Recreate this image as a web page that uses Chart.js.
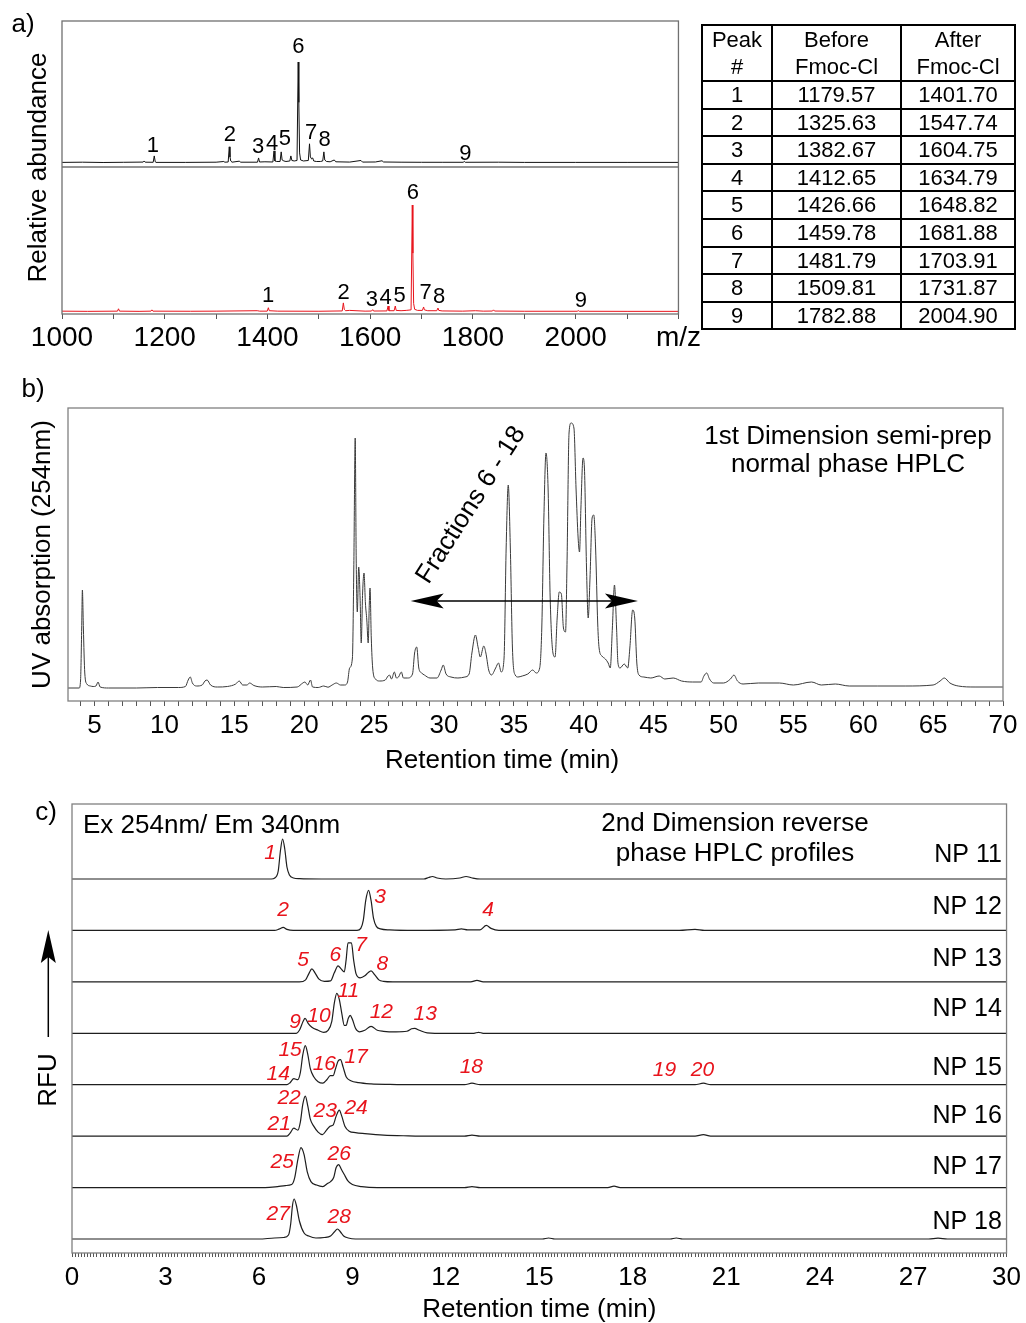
<!DOCTYPE html>
<html><head><meta charset="utf-8">
<script src="https://cdn.jsdelivr.net/npm/chart.js@4.4.1/dist/chart.umd.min.js"></script>
<style>
html,body{margin:0;padding:0;background:#fff;overflow:hidden;width:1026px;height:1323px}
body{position:relative;font-family:'Liberation Sans',Arial,sans-serif;color:#000}
canvas{position:absolute}
.t{position:absolute;white-space:nowrap;line-height:1;transform:translate(-50%,-50%);font-size:26px}
#tbl{position:absolute;left:701px;top:24px;width:313px;border-collapse:collapse;table-layout:fixed;font-size:22px;text-align:center}
#tbl td{border:2px solid #000;padding:0;line-height:25.6px;height:25.6px}
#tbl tr.hd td{line-height:27px;height:54px}
</style></head><body>
<canvas id="ca" width="703" height="360" style="left:0;top:0"></canvas>
<canvas id="cb" width="1026" height="410" style="left:0;top:370px"></canvas>
<canvas id="cc" width="1026" height="533" style="left:0;top:790px"></canvas>
<table id="tbl"></table>
<div class="t" style="left:23px;top:23px">a)</div>
<div class="t" style="left:33px;top:388px">b)</div>
<div class="t" style="left:46px;top:811px">c)</div>
<div class="t" style="left:848px;top:435px">1st Dimension semi-prep</div>
<div class="t" style="left:848px;top:463px">normal phase HPLC</div>
<div class="t" style="left:502px;top:759px">Retention time (min)</div>
<div class="t" style="left:83px;top:824px;transform:translate(0,-50%)">Ex 254nm/ Em 340nm</div>
<div class="t" style="left:735px;top:822px">2nd Dimension reverse</div>
<div class="t" style="left:735px;top:852px">phase HPLC profiles</div>
<div class="t" style="left:47px;top:1080px;transform:translate(-50%,-50%) rotate(-90deg)">RFU</div>
<svg style="position:absolute;left:30px;top:920px" width="40" height="130">
  <line x1="18.3" y1="117" x2="18.3" y2="36" stroke="#000" stroke-width="1.5"/>
  <path d="M18.3 10 L25.8 43 L18.3 37 L10.8 43 Z" fill="#000"/>
</svg>
<script>
// ---------- Panel a: MS peak table ----------
const peakNo = [1, 2, 3, 4, 5, 6, 7, 8, 9];
const mzBefore = [1179.57, 1325.63, 1382.67, 1412.65, 1426.66, 1459.78, 1481.79, 1509.81, 1782.88];
const mzAfter = [1401.70, 1547.74, 1604.75, 1634.79, 1648.82, 1681.88, 1703.91, 1731.87, 2004.90];

// spectra: [m/z, relative abundance %]
const spectrumBefore = [[1000,0.6],[1040,0.8],[1080,0.5],[1120,0.7],[1158,0.9],[1160,2],[1162,0.8],[1177.5,0.7],[1179.6,7],[1181.5,1.2],[1183,0.6],[1240,0.6],[1300,0.8],[1315,1.5],[1317,0.8],[1323.5,1],[1325.6,16],[1327,6],[1328.5,2],[1331,0.8],[1345,1.8],[1348,0.8],[1380.5,0.8],[1382.7,5],[1384.5,1],[1395,1.2],[1410.5,1],[1412.7,12],[1414.5,2],[1418,1.5],[1424.5,1.5],[1426.7,11],[1428.5,3],[1432,2],[1436,1.5],[1443.5,2],[1445.5,7],[1447.5,2.5],[1452,2],[1457.5,2.5],[1459.8,100],[1461,60],[1462.5,10],[1464.5,3],[1470,2],[1479.5,2.5],[1481.8,19],[1483.5,6],[1486,4],[1488,5],[1490,2],[1495,1.5],[1503,1.5],[1507.5,2],[1509.8,11],[1511.5,3],[1515,1.5],[1522,1.2],[1530,3],[1533,1.2],[1560,0.9],[1582,2.5],[1585,0.9],[1610,1],[1623,2.2],[1626,1],[1660,0.8],[1700,0.7],[1740,0.7],[1781,0.7],[1783,1.6],[1785,0.7],[1850,0.8],[1900,0.6],[2000,0.6],[2100,0.6],[2200,0.6]];
const spectrumAfter = [[1000,0.8],[1050,0.6],[1108,0.8],[1110,3],[1112,0.8],[1150,0.6],[1173,0.8],[1175,2],[1177,0.8],[1250,0.7],[1300,0.8],[1380,1.2],[1385,0.8],[1399.5,0.8],[1401.7,4],[1403.5,1.2],[1420,0.8],[1500,0.7],[1545.5,1],[1547.7,8.5],[1549.5,2.5],[1552,1.2],[1560,1.5],[1590,0.8],[1602.5,0.9],[1604.8,2.2],[1606.5,0.9],[1632.5,1],[1634.8,5.6],[1636.5,1.2],[1646.5,1.2],[1648.8,5.6],[1650.5,1.5],[1660,1.2],[1670,1.5],[1679.5,2],[1681.9,100],[1683,55],[1684.5,8],[1686.5,2.5],[1692,1.5],[1701.5,1.5],[1703.9,4.7],[1705.5,2],[1712,1.2],[1729.5,1.2],[1731.9,3.7],[1733.5,1.5],[1740,1],[1780,0.8],[1805,1.2],[1820,0.8],[1838,0.9],[1840,2],[1842,0.9],[1900,0.7],[2003,0.7],[2005,1.3],[2007,0.7],[2100,0.6],[2200,0.6]];

const beforeLabelMz = [1177, 1327, 1382, 1409, 1434, 1460, 1485, 1511, 1785];
const beforeLabelH = [17, 28, 16, 19, 24, 115, 30, 23, 9];
const afterLabelMz = [1401, 1548, 1603, 1630, 1657, 1683, 1708, 1734, 2010];
const afterLabelH = [15, 17.8, 11.2, 13, 15, 111, 17.8, 14, 10.3];
const mzTickLabels = {1000:'1000',1200:'1200',1400:'1400',1600:'1600',1800:'1800',2000:'2000',2200:'m/z'};

// ---------- Panel b: 1st dimension UV trace [min, absorbance] ----------
const uvTrace = [[3.1,0],[3.9,0],[4.0,8],[4.08,60],[4.13,98],[4.2,60],[4.3,15],[4.45,4],[4.7,2],[4.9,1.5],[5.1,2],[5.25,6],[5.4,1],[6,0],[8,0],[9.5,0.5],[11,0.5],[11.5,1.5],[11.7,8],[11.85,11],[12.0,5],[12.3,2],[12.7,3],[12.9,7],[13.05,8],[13.3,3],[13.8,1],[14.5,1.5],[15.1,4],[15.35,7],[15.6,3],[15.9,3],[16.1,5],[16.4,2.5],[17,1],[18,1.5],[18.5,0.5],[19.5,1],[19.9,5],[20.05,6],[20.25,3],[20.45,8],[20.6,1],[21,0.5],[21.4,2],[21.7,0.8],[22.0,3],[22.3,5],[22.6,3],[22.9,3],[23.1,6],[23.25,20],[23.45,30],[23.55,120],[23.65,250],[23.72,130],[23.8,76],[23.9,121],[24.0,90],[24.08,45],[24.18,95],[24.28,115],[24.38,85],[24.48,68],[24.58,45],[24.66,85],[24.71,100],[24.8,50],[24.9,20],[25.1,9],[25.4,7],[25.8,8],[26.0,12],[26.1,13],[26.25,9],[26.45,16],[26.6,10],[26.75,11],[26.95,16],[27.1,10],[27.4,10],[27.75,14],[27.9,35],[28.05,41],[28.2,20],[28.4,15],[28.6,13],[29.0,10],[29.5,10],[29.8,18],[29.95,23],[30.15,14],[30.5,11],[31.0,10],[31.5,11],[31.8,14],[32.0,35],[32.25,53],[32.45,40],[32.6,31],[32.85,42],[33.0,35],[33.2,18],[33.4,13],[33.7,20],[33.9,25],[34.1,16],[34.3,30],[34.45,140],[34.6,203],[34.75,140],[34.9,40],[35.1,13],[35.3,11],[35.6,12],[36.0,14],[36.35,18],[36.6,15],[36.85,20],[37.0,60],[37.15,170],[37.3,235],[37.45,200],[37.6,90],[37.8,35],[37.95,31],[38.1,70],[38.25,96],[38.4,94],[38.55,60],[38.7,56],[38.8,120],[38.95,255],[39.1,265],[39.3,260],[39.45,200],[39.6,150],[39.7,136],[39.8,180],[39.95,230],[40.05,220],[40.2,120],[40.32,70],[40.45,110],[40.6,170],[40.72,173],[40.85,140],[41.0,65],[41.1,40],[41.3,32],[41.55,29],[41.75,25],[41.9,20],[42.05,60],[42.2,103],[42.35,60],[42.45,25],[42.6,20],[42.9,24],[43.15,20],[43.3,40],[43.5,78],[43.65,70],[43.8,25],[43.95,13],[44.3,11],[44.8,10],[45.4,12],[45.8,9],[46.4,10],[47.0,7],[47.8,6],[48.4,6],[48.6,12],[48.8,15],[49.0,9],[49.3,5],[50.0,5],[50.5,9],[50.75,13],[51.0,7],[51.4,4],[52.5,5],[54.0,5],[55.0,3],[56.3,6],[57.0,3],[58.0,4],[59.0,2],[61.0,2],[63.0,2],[65.0,3],[65.5,7],[65.8,10],[66.2,5],[66.8,2],[68.0,1],[70,1]];
const fractionRange = [27.62, 43.88];
const fractionLevel = 87;
const fractionText = 'Fractions 6 - 18';
const fractionTextPos = [31.95, 183];

// ---------- Panel c: 2nd dimension RP-HPLC profiles [min, RFU] ----------
const npNames = ['NP 11','NP 12','NP 13','NP 14','NP 15','NP 16','NP 17','NP 18'];
const np11 = [[0,0],[6.4,0],[6.51,1],[6.62,8],[6.69,28],[6.76,40],[6.83,30],[6.9,12],[6.98,4],[7.11,1],[7.3,0.3],[8,0],[11.3,0],[11.45,1.5],[11.57,2.5],[11.72,1],[12,0],[12.45,1],[12.65,2.5],[12.85,1],[13.1,0],[30,0]];
const np12 = [[0,0],[6.5,0],[6.66,1.5],[6.78,3],[6.9,1],[7.1,0],[9.15,0],[9.27,2],[9.35,10],[9.43,30],[9.52,40],[9.6,30],[9.68,12],[9.77,4],[9.9,1.5],[10.2,0.5],[11,0],[12.3,0.5],[12.5,1.5],[12.7,0.5],[13.1,0.5],[13.3,5],[13.45,2],[13.7,0],[19.5,0],[20,1],[20.3,0],[30,0]];
const np13 = [[0,0],[7.3,0],[7.5,2],[7.6,8],[7.7,13],[7.8,9],[7.92,3],[8.1,0.5],[8.3,1],[8.42,9],[8.54,16],[8.64,13],[8.74,10],[8.8,22],[8.86,39],[8.97,39],[9.04,22],[9.12,8],[9.25,4],[9.4,6],[9.5,9],[9.6,11],[9.72,7],[9.85,2],[10.0,0.5],[10.3,0],[12.8,0],[13.0,1.5],[13.2,0],[30,0]];
const np14 = [[0,0],[7.2,0],[7.3,3],[7.42,12],[7.48,15],[7.58,10],[7.7,6],[7.9,3],[8.08,1],[8.22,3],[8.34,12],[8.42,30],[8.5,40],[8.58,34],[8.66,20],[8.74,8],[8.8,8],[8.87,15],[8.93,18],[9.0,14],[9.1,5],[9.22,1.5],[9.4,3],[9.6,7],[9.8,3],[10.0,2],[10.4,1.5],[10.75,2],[10.9,4.5],[11.0,5],[11.15,3],[11.4,0.5],[12,0],[12.9,0],[13.05,1],[13.2,0],[30,0]];
const np15 = [[0,0],[6.9,0],[7.0,2],[7.12,6],[7.25,5],[7.33,12],[7.41,30],[7.49,39],[7.57,30],[7.65,16],[7.76,8],[7.9,3],[8.05,1.5],[8.18,5],[8.29,9],[8.38,9],[8.46,16],[8.55,24],[8.62,25],[8.7,18],[8.8,8],[8.95,4],[9.2,2],[9.6,0.8],[10.2,0.3],[11,0],[12.6,0],[12.84,1.5],[13.1,0],[20.0,0],[20.27,1.5],[20.5,0],[30,0]];
const np16 = [[0,0],[6.9,0],[7.0,3],[7.12,8],[7.25,6],[7.33,14],[7.41,32],[7.49,40],[7.57,30],[7.65,17],[7.76,10],[7.9,4],[8.04,1.5],[8.17,6],[8.29,10],[8.38,11],[8.48,20],[8.58,26],[8.66,20],[8.76,10],[8.9,5],[9.1,3.5],[9.4,2.5],[10,1],[10.8,0.3],[11.5,0],[12.6,0],[12.84,1],[13.1,0],[20,0],[20.27,1.5],[20.5,0],[30,0]];
const np17 = [[0,0],[6.2,0],[6.6,1],[6.85,2],[7.05,3],[7.15,10],[7.25,28],[7.35,40],[7.45,33],[7.55,16],[7.67,6],[7.85,2.5],[8.05,1],[8.2,4],[8.3,6],[8.4,10],[8.48,20],[8.56,23],[8.65,18],[8.74,13],[8.85,7],[9.0,3],[9.3,1],[9.8,0],[12.6,0],[12.84,1],[13.1,0],[17.2,0],[17.4,1.5],[17.6,0],[30,0]];
const np18 = [[0,0],[6.0,0],[6.5,1],[6.8,1.5],[6.95,4],[7.02,15],[7.08,34],[7.13,40],[7.2,34],[7.3,18],[7.45,6],[7.6,3],[7.83,1],[8.1,1.5],[8.3,3],[8.42,7],[8.52,10],[8.62,7],[8.72,3],[8.87,1],[9.1,0],[15.1,0],[15.3,1],[15.5,0],[19.2,0],[19.4,1],[19.6,0],[27.5,0],[27.8,0.8],[28.1,0],[30,0]];
const npTraces = [np11, np12, np13, np14, np15, np16, np17, np18];
const npNameDy = [24, 23, 23, 24, 17, 20, 20, 17];
const peakLabelText = ['1','2','3','4','5','6','7','8','9','10','11','12','13','14','15','16','17','18','19','20','21','22','23','24','25','26','27','28'];
const peakLabelTrace = [0,1,1,1,2,2,2,2,3,3,3,3,3,4,4,4,4,4,4,4,5,5,5,5,6,6,7,7];
const peakLabelT = [6.36,6.78,9.89,13.36,7.42,8.45,9.28,9.96,7.16,7.93,8.87,9.93,11.34,6.62,7.0,8.1,9.12,12.82,19.02,20.24,6.65,6.97,8.13,9.12,6.75,8.58,6.62,8.58];
const peakLabelDy = [26,20,33,20,22,27,37,18,11,17,42,21,19,11,35,21,28,18,15,15,12,38,25,28,25,33,25,22];

// ---------- helpers ----------
const FONT = "'Liberation Sans', Arial, sans-serif";
Chart.defaults.font.family = FONT;
Chart.defaults.color = '#000';

// table from arrays
(function(){
  let h = '<colgroup><col style="width:70px"><col style="width:129px"><col style="width:114px"></colgroup>';
  h += '<tr class="hd"><td>Peak<br>#</td><td>Before<br>Fmoc-Cl</td><td>After<br>Fmoc-Cl</td></tr>';
  peakNo.forEach((n,i)=>{ h += '<tr><td>'+n+'</td><td>'+mzBefore[i].toFixed(2)+'</td><td>'+mzAfter[i].toFixed(2)+'</td></tr>'; });
  document.getElementById('tbl').innerHTML = h;
})();

const framePlugin = {
  id: 'frame',
  afterDraw(chart, args, o) {
    const {ctx, chartArea: {left, top, right, bottom}} = chart;
    ctx.save();
    ctx.strokeStyle = o.color || '#808080';
    ctx.lineWidth = o.width || 1.3;
    ctx.strokeRect(left, top, right - left, bottom - top);
    (o.hLines || []).forEach(v => {
      const py = chart.scales.y.getPixelForValue(v);
      ctx.beginPath(); ctx.moveTo(left, py); ctx.lineTo(right, py); ctx.stroke();
    });
    ctx.restore();
  }
};
const textPlugin = {
  id: 'dataText',
  afterDatasetsDraw(chart, args, o) {
    const {ctx, scales: {x, y}} = chart;
    ctx.save();
    (o.items || []).forEach(it => {
      ctx.font = it.font; ctx.fillStyle = it.color || '#000';
      ctx.textAlign = it.align || 'center'; ctx.textBaseline = 'middle';
      const px = x.getPixelForValue(it.x), py = y.getPixelForValue(it.y);
      if (it.rot) { ctx.save(); ctx.translate(px, py); ctx.rotate(it.rot * Math.PI / 180); ctx.fillText(it.text, 0, 0); ctx.restore(); }
      else ctx.fillText(it.text, px, py);
    });
    ctx.restore();
  }
};
const arrowPlugin = {
  id: 'fracArrow',
  afterDatasetsDraw(chart, args, o) {
    if (!o.from) return;
    const {ctx, scales: {x, y}} = chart;
    const x1 = x.getPixelForValue(o.from), x2 = x.getPixelForValue(o.to), py = y.getPixelForValue(o.level);
    ctx.save(); ctx.strokeStyle = '#000'; ctx.fillStyle = '#000'; ctx.lineWidth = 1.4;
    ctx.beginPath(); ctx.moveTo(x1 + 20, py); ctx.lineTo(x2 - 20, py); ctx.stroke();
    const head = (tx, d) => { ctx.beginPath(); ctx.moveTo(tx, py); ctx.lineTo(tx + d*33, py - 7.5); ctx.lineTo(tx + d*26, py); ctx.lineTo(tx + d*33, py + 7.5); ctx.closePath(); ctx.fill(); };
    head(x1, 1); head(x2, -1);
    ctx.restore();
  }
};
Chart.register(framePlugin, textPlugin, arrowPlugin);

const baseOpts = (extra) => Object.assign({
  responsive: false, animation: false, devicePixelRatio: 1, events: [],
}, extra);
const fixW = w => s => { s.width = w; };
const fixH = h => s => { s.height = h; };

// ---------- Panel a chart ----------
const A_TOP_BASE = 151, A_TOP_GAIN = 1.01, A_BOT_BASE = 2, A_BOT_GAIN = 1.07, A_SEP = 147;
const aItems = [];
peakNo.forEach((n,i) => {
  aItems.push({text: String(n), x: beforeLabelMz[i], y: A_TOP_BASE + beforeLabelH[i]*A_TOP_GAIN, font: "22px " + FONT});
  aItems.push({text: String(n), x: afterLabelMz[i], y: A_BOT_BASE + afterLabelH[i]*A_BOT_GAIN, font: "22px " + FONT});
});
new Chart(document.getElementById('ca'), {
  type: 'line',
  data: { datasets: [
    { data: spectrumBefore.map(p => ({x: p[0], y: A_TOP_BASE + p[1]*A_TOP_GAIN})), borderColor: '#111', borderWidth: 1, pointRadius: 0, tension: 0 },
    { data: spectrumAfter.map(p => ({x: p[0], y: A_BOT_BASE + p[1]*A_BOT_GAIN})), borderColor: '#e8141c', borderWidth: 1, pointRadius: 0, tension: 0 }
  ]},
  options: baseOpts({
    layout: { padding: { top: 21, right: 24, left: 0, bottom: 0 } },
    plugins: { legend: {display: false}, tooltip: {enabled: false},
      frame: { color: '#707070', width: 1.3, hLines: [A_SEP] },
      dataText: { items: aItems } },
    scales: {
      x: { type: 'linear', min: 1000, max: 2200,
        ticks: { stepSize: 100, autoSkip: false, maxRotation: 0, minRotation: 0, includeBounds: false, padding: 2,
          font: { size: 28 }, color: '#000', callback: v => mzTickLabels[v] || '' },
        grid: { drawOnChartArea: false, tickLength: 5, color: '#555' }, border: { display: false },
        afterFit: fixH(46) },
      y: { min: 0, max: 293, ticks: { display: false }, grid: { display: false }, border: { display: false },
        title: { display: true, text: 'Relative abundance', font: { size: 26 }, color: '#000', padding: { top: 23, bottom: 0 } },
        afterFit: fixW(62) }
    }
  })
});

// ---------- Panel b chart ----------
new Chart(document.getElementById('cb'), {
  type: 'line',
  data: { datasets: [
    { data: uvTrace.map(p => ({x: p[0], y: p[1]})), borderColor: '#3a3a3a', borderWidth: 1, pointRadius: 0, cubicInterpolationMode: 'monotone' }
  ]},
  options: baseOpts({
    layout: { padding: { top: 38, right: 23, left: 0, bottom: 0 } },
    plugins: { legend: {display: false}, tooltip: {enabled: false},
      frame: { color: '#808080', width: 1.3 },
      fracArrow: { from: fractionRange[0], to: fractionRange[1], level: fractionLevel },
      dataText: { items: [{ text: fractionText, x: fractionTextPos[0], y: fractionTextPos[1], rot: -57.4, font: "26px " + FONT }] } },
    scales: {
      x: { type: 'linear', min: 3.1, max: 70,
        ticks: { stepSize: 1, autoSkip: false, maxRotation: 0, minRotation: 0, includeBounds: false, padding: 4,
          font: { size: 26 }, color: '#000', callback: v => (v % 5 === 0 ? String(v) : '') },
        grid: { drawOnChartArea: false, tickLength: 5, color: '#555' }, border: { display: false },
        afterFit: fixH(79) },
      y: { min: -13, max: 280, ticks: { display: false }, grid: { display: false }, border: { display: false },
        title: { display: true, text: 'UV absorption (254nm)', font: { size: 26 }, color: '#000', padding: { top: 27, bottom: 0 } },
        afterFit: fixW(68) }
    }
  })
});

// ---------- Panel c chart ----------
const C_SPACING = 51.43;
const cItems = [];
npNames.forEach((nm, i) => cItems.push({ text: nm, x: 29.85, y: (7 - i)*C_SPACING + npNameDy[i], align: 'right', font: "25px " + FONT }));
peakLabelText.forEach((t, i) => cItems.push({ text: t, x: peakLabelT[i], y: (7 - peakLabelTrace[i])*C_SPACING + peakLabelDy[i], color: '#e8141c', font: "italic 21px " + FONT }));
new Chart(document.getElementById('cc'), {
  type: 'line',
  data: { datasets: npTraces.map((tr, i) => ({
    data: tr.map(p => ({x: p[0], y: (7 - i)*C_SPACING + p[1]})),
    borderColor: '#1e1e1e', borderWidth: 1.2, pointRadius: 0, cubicInterpolationMode: 'monotone'
  }))},
  options: baseOpts({
    layout: { padding: { top: 14, right: 19, left: 0, bottom: 0 } },
    plugins: { legend: {display: false}, tooltip: {enabled: false},
      frame: { color: '#808080', width: 1.3 },
      dataText: { items: cItems } },
    scales: {
      x: { type: 'linear', min: 0, max: 30,
        ticks: { stepSize: 0.1, autoSkip: false, maxRotation: 0, minRotation: 0, includeBounds: false, padding: 5,
          font: { size: 26 }, color: '#000', callback: v => (Math.abs(v/3 - Math.round(v/3)) < 1e-6 ? String(Math.round(v)) : '') },
        grid: { drawOnChartArea: false, tickLength: 4, color: '#555' }, border: { display: false },
        title: { display: true, text: 'Retention time (min)', font: { size: 26, lineHeight: 1 }, color: '#000', padding: { top: 0, bottom: 0 } },
        afterFit: fixH(70) },
      y: { min: -14, max: 435, ticks: { display: false }, grid: { display: false }, border: { display: false },
        afterFit: fixW(72) }
    }
  })
});
</script>
</body></html>
